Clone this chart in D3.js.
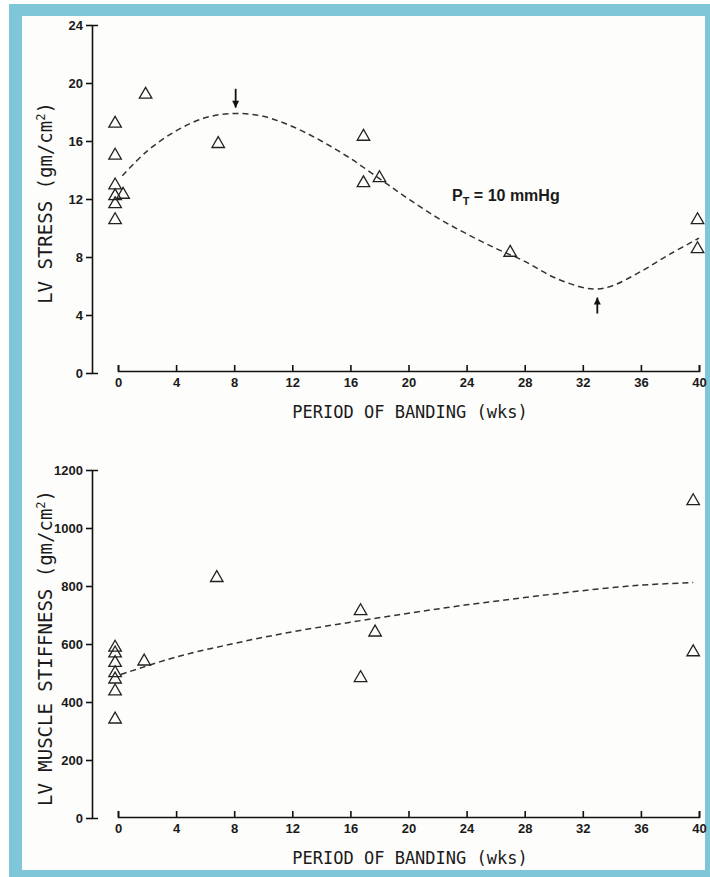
<!DOCTYPE html>
<html>
<head>
<meta charset="utf-8">
<script src="https://cdn.jsdelivr.net/npm/d3@7"></script>
<style>
  body { margin: 0; background: #fff; }
  svg text { fill: #1a1a1a; }
</style>
</head>
<body>
<div id="chart"></div>
<script>
// weeks of banding, LV stress (gm/cm2)
const stressWeeks = [-0.2, -0.2, -0.2, -0.2, 0.35, -0.2, -0.2, 1.9, 6.9, 16.9, 16.9, 18.0, 27.0, 39.9, 39.9]
const stressValues = [17.2, 15.0, 12.95, 12.2, 12.3, 11.65, 10.55, 19.2, 15.8, 16.3, 13.1, 13.45, 8.3, 10.55, 8.55]

// dashed fitted curve
const stressCurveWeeks = [0.3, 2, 4, 6, 8, 10, 12, 14, 16, 18, 20, 22, 24, 26, 28, 30, 32, 33, 34, 36, 38, 40]
const stressCurveValues = [13.6, 15.3, 16.7, 17.6, 17.9, 17.7, 17.0, 16.0, 14.8, 13.4, 12.0, 10.7, 9.6, 8.6, 7.7, 6.6, 5.9, 5.8, 6.0, 7.0, 8.2, 9.3]

// LV muscle stiffness (gm/cm2)
const stiffWeeks = [-0.2, -0.2, -0.2, -0.2, -0.2, -0.2, -0.2, 1.8, 6.8, 16.7, 17.7, 16.7, 39.6, 39.6]
const stiffValues = [588, 568, 535, 500, 478, 437, 340, 540, 828, 714, 640, 483, 1093, 572]

const stiffCurveWeeks = [0.2, 4, 8, 12, 16, 20, 24, 28, 32, 36, 39.6]
const stiffCurveValues = [495, 555, 602, 642, 675, 706, 735, 760, 784, 803, 812]

const weekTicks = [0, 4, 8, 12, 16, 20, 24, 28, 32, 36, 40]
const stressTicks = [0, 4, 8, 12, 16, 20, 24]
const stiffTicks = [0, 200, 400, 600, 800, 1000, 1200]

const W = 710, H = 877

const svg = d3.select('#chart')
    .append('svg')
    .attr('width', W)
    .attr('height', H)

// blue frame
const blue = '#7ec6d8'
svg.append('rect').attr('x', 9).attr('y', 4).attr('width', W - 9).attr('height', H - 4).attr('fill', blue)
svg.append('rect').attr('x', 22).attr('y', 16).attr('width', 683).attr('height', 854).attr('fill', '#fdfdfb')

const x = d3.scaleLinear().domain([0, 40]).range([118, 699])
const yTop = d3.scaleLinear().domain([0, 24]).range([373, 25])
const yBot = d3.scaleLinear().domain([0, 1200]).range([818, 470])

const tri = d3.symbol().type(d3.symbolTriangle).size(68)
const line = d3.line().curve(d3.curveCatmullRom)

const tickFont = a => a.selectAll('text')
    .style('font-family', 'Liberation Sans, Arial, sans-serif')
    .style('font-weight', 'bold')
    .style('font-size', '13px')

function panel(y, ticks, weeks, values, cWeeks, cValues, xAxisY, label, labelY) {
    const g = svg.append('g')

    // y axis, caps at both ends point inward
    g.append('g')
        .attr('transform', 'translate(92,0)')
        .call(d3.axisLeft(y).tickValues(ticks).tickFormat(d3.format('d'))
            .tickSize(6).tickSizeOuter(-6).tickPadding(3))
        .call(a => a.selectAll('path,line').attr('stroke', '#111').attr('stroke-width', 1.6))
        .call(tickFont)

    // x axis, ticks point up
    g.append('g')
        .attr('transform', `translate(0,${xAxisY})`)
        .call(d3.axisBottom(x).tickValues(weekTicks).tickSize(-6).tickSizeOuter(-6).tickPadding(7))
        .call(a => a.selectAll('path,line').attr('stroke', '#111').attr('stroke-width', 1.6))
        .call(tickFont)

    g.append('text')
        .text('PERIOD OF BANDING (wks)')
        .attr('x', 410)
        .attr('y', xAxisY + 47)
        .attr('text-anchor', 'middle')
        .style('font-family', 'DejaVu Sans Mono, monospace')
        .style('font-size', '17px')

    const yl = g.append('text')
        .attr('transform', `translate(52,${labelY}) rotate(-90)`)
        .attr('text-anchor', 'middle')
        .style('font-family', 'DejaVu Sans Mono, monospace')
        .style('font-size', '19px')
    yl.append('tspan').text(label + ' (gm/cm')
    yl.append('tspan').text('2').attr('dy', -7).style('font-size', '12px')
    yl.append('tspan').text(')').attr('dy', 7)

    // dashed fit
    g.append('path')
        .attr('d', line(cWeeks.map((w, i) => [x(w), y(cValues[i])])))
        .attr('fill', 'none')
        .attr('stroke', '#333')
        .attr('stroke-width', 1.5)
        .attr('stroke-dasharray', '6,4')

    // open triangles
    g.selectAll('path.pt')
        .data(weeks)
        .join('path')
        .attr('class', 'pt')
        .attr('d', tri)
        .attr('transform', (d, i) => `translate(${x(d)},${y(values[i])})`)
        .attr('fill', 'none')
        .attr('stroke', '#222')
        .attr('stroke-width', 1.3)
    return g
}

const topPanel = panel(yTop, stressTicks, stressWeeks, stressValues,
    stressCurveWeeks, stressCurveValues, 371, 'LV STRESS', 203)
panel(yBot, stiffTicks, stiffWeeks, stiffValues,
    stiffCurveWeeks, stiffCurveValues, 817, 'LV MUSCLE STIFFNESS', 648)

// arrows at peak and trough
const arrow = (xp, y1, y2) => {
    topPanel.append('line')
        .attr('x1', xp).attr('x2', xp).attr('y1', y1).attr('y2', y2)
        .attr('stroke', '#111').attr('stroke-width', 1.8)
    const dir = Math.sign(y2 - y1)
    topPanel.append('path')
        .attr('d', `M${xp - 3.5},${y2 - dir * 7}L${xp + 3.5},${y2 - dir * 7}L${xp},${y2}Z`)
        .attr('fill', '#111')
}
arrow(x(8.1), yTop(19.6), yTop(18.3))
arrow(x(33.0), yTop(4.1), yTop(5.2))

const pt = topPanel.append('text')
    .attr('x', 452)
    .attr('y', 201)
    .style('font-family', 'Liberation Sans, Arial, sans-serif')
    .style('font-weight', 'bold')
    .style('font-size', '16px')
pt.append('tspan').text('P')
pt.append('tspan').text('T').attr('dy', 4).style('font-size', '11px')
pt.append('tspan').text(' = 10 mmHg').attr('dy', -4)
</script>
</body>
</html>
